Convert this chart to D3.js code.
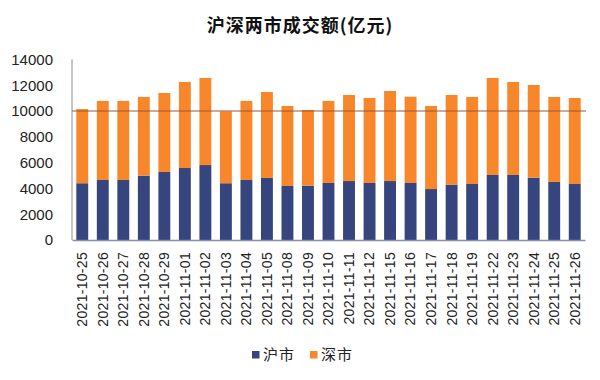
<!DOCTYPE html>
<html><head><meta charset="utf-8">
<script src="https://cdn.jsdelivr.net/npm/d3@7"></script>
<style>body{margin:0;background:#fff;}svg{display:block;}</style>
</head><body>
<svg id="c" width="600" height="380"></svg>
<script>
const dates = ["2021-10-25","2021-10-26","2021-10-27","2021-10-28","2021-10-29","2021-11-01","2021-11-02","2021-11-03","2021-11-04","2021-11-05","2021-11-08","2021-11-09","2021-11-10","2021-11-11","2021-11-12","2021-11-15","2021-11-16","2021-11-17","2021-11-18","2021-11-19","2021-11-22","2021-11-23","2021-11-24","2021-11-25","2021-11-26"];
const shanghai = [4400,4650,4650,4990,5270,5580,5810,4400,4650,4810,4190,4210,4420,4570,4420,4570,4420,3950,4290,4340,5040,5040,4830,4500,4340];
const total    = [10150,10780,10780,11090,11400,12250,12560,9970,10780,11470,10390,10080,10780,11240,11010,11550,11110,10390,11240,11090,12560,12250,12020,11090,11010];
const shenzhen = total.map((t,i)=>t-shanghai[i]);
const yTicks = [0,2000,4000,6000,8000,10000,12000,14000];
const seriesNames = ["沪市","深市"];
const colors = ["#36457d","#f8872b"];

const svg = d3.select("#c");
const m = {l:72, r:15, t:59.4, b:140};
const W = 600, H = 380;
const x = d3.scaleBand().domain(dates).range([72,585]).paddingInner(0.42).paddingOuter(0.21);
const y = d3.scaleLinear().domain([0,14000]).range([240,59.4]);

svg.append("text").attr("x",300).attr("y",32).attr("text-anchor","middle")
  .style("font-family","'Noto Sans CJK SC','Noto Sans',sans-serif").style("font-weight","bold")
  .style("font-size","18px").style("letter-spacing","1px").attr("fill","#111").text("沪深两市成交额(亿元)");

const rows = dates.map((d,i)=>({date:d, 沪市:shanghai[i], 深市:shenzhen[i]}));
const stack = d3.stack().keys(seriesNames)(rows);

svg.append("g").selectAll("g").data(stack).join("g").attr("fill",(d,i)=>colors[i])
  .selectAll("rect").data(d=>d).join("rect")
  .attr("x",d=>x(d.data.date)).attr("width",x.bandwidth())
  .attr("y",d=>y(d[1])).attr("height",d=>y(d[0])-y(d[1]));

// reference line at 10000
svg.append("line").attr("x1",72).attr("x2",586).attr("y1",y(10000)).attr("y2",y(10000))
  .attr("stroke","#9b5637").attr("stroke-width",1.2);

// y axis
const ya = svg.append("g").attr("transform","translate(72,0)")
  .call(d3.axisLeft(y).tickValues(yTicks).tickSize(0).tickPadding(19).tickFormat(d3.format("d")));
ya.select(".domain").attr("stroke","#8c8c8c").attr("d","M0,240V59.4");
ya.selectAll("text").style("font-family","'Liberation Sans',Arial,sans-serif").style("font-size","15px").attr("fill","#222");

// x axis
const xa = svg.append("g").attr("transform","translate(0,240)")
  .call(d3.axisBottom(x).tickSize(0).tickPadding(0));
xa.select(".domain").attr("stroke","#8a8fa8").attr("stroke-width",1.5);
xa.selectAll("text").attr("transform","rotate(-90)").attr("text-anchor","end")
  .attr("x",-12).attr("y",0).attr("dy","0.35em")
  .style("font-family","'Liberation Sans',Arial,sans-serif").style("font-size","14px").style("letter-spacing","0.3px").attr("fill","#222");

// legend
const lg = svg.append("g");
const lx = [252,310];
seriesNames.forEach((n,i)=>{
  lg.append("rect").attr("x",lx[i]).attr("y",351).attr("width",7.5).attr("height",7.5).attr("fill",colors[i]);
  lg.append("text").attr("x",lx[i]+11).attr("y",360).style("font-family","'Noto Sans CJK SC',sans-serif")
    .style("font-size","15px").style("letter-spacing","1px").attr("fill","#222").text(n);
});
</script>
</body></html>
